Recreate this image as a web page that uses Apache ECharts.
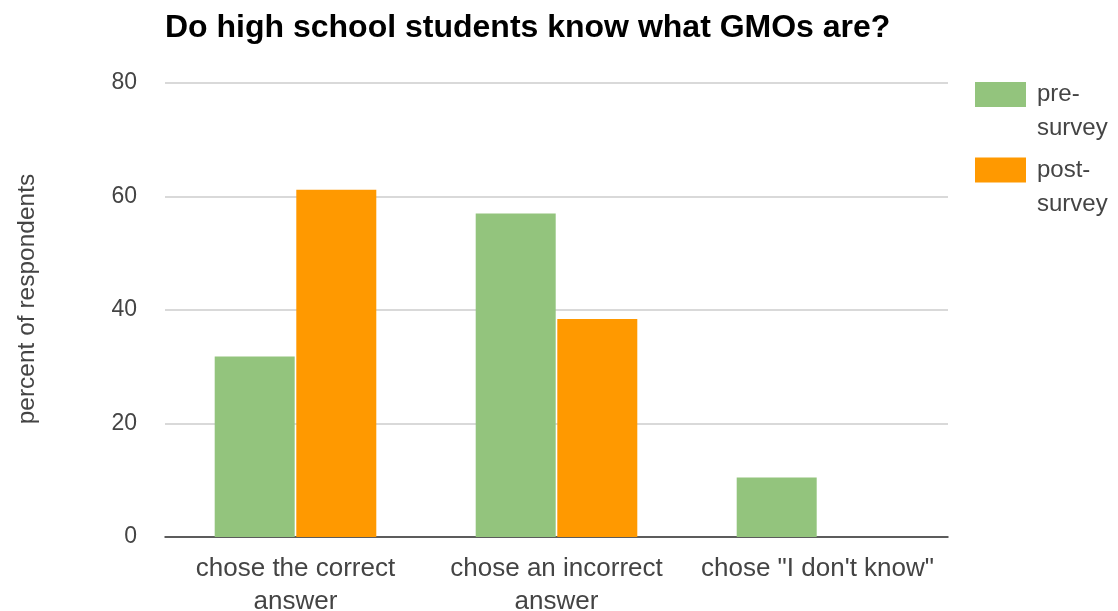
<!DOCTYPE html>
<html>
<head>
<meta charset="utf-8">
<script src="https://cdn.jsdelivr.net/npm/echarts@6/dist/echarts.min.js"></script>
<style>
  html, body { margin: 0; padding: 0; background: #fff; }
  #chart { width: 1118px; height: 611px; }
</style>
</head>
<body>
<div id="chart"></div>
<script>
// Survey answers, in percent of respondents
const categories = ['chose the correct\nanswer', 'chose an incorrect\nanswer', 'chose "I don\'t know"'];
const preSurvey = [31.8, 57.0, 10.5];
const postSurvey = [61.2, 38.4, 0];
const seriesNames = ['pre-survey', 'post-survey'];
const yTicks = { min: 0, max: 80, interval: 20 };

const font = '"Liberation Sans", Arial, sans-serif';
const chart = echarts.init(document.getElementById('chart'));

// One legend per series so each swatch lines up with the first line of its wrapped label
function legendFor(name, top) {
  return {
    orient: 'vertical',
    left: 975,
    top: top,
    padding: 0,
    itemWidth: 51,
    itemHeight: 25,
    icon: 'rect',
    data: [name],
    // leading blank line keeps the swatch level with the first text line
    formatter: n => '\n' + n.replace('-', '-\n'),
    textStyle: { fontFamily: font, fontSize: 24, color: '#444', lineHeight: 34, padding: [6, 0, 0, 6] }
  };
}

chart.setOption({
  backgroundColor: '#ffffff',
  animation: false,
  title: {
    text: 'Do high school students know what GMOs are?',
    left: 160,
    top: 7,
    textStyle: { fontFamily: font, fontWeight: 'bold', fontSize: 32, color: '#000' }
  },
  legend: [legendFor(seriesNames[0], 40.5), legendFor(seriesNames[1], 116)],
  grid: { left: 165, right: 170, top: 83, bottom: 74, outerBoundsMode: 'none' },
  xAxis: {
    type: 'category',
    data: categories,
    axisLine: { lineStyle: { color: '#333', width: 1.5 } },
    axisTick: { show: false },
    axisLabel: {
      fontFamily: font, fontSize: 26, color: '#444', lineHeight: 33, margin: 15,
      interval: 0
    }
  },
  yAxis: {
    type: 'value',
    min: yTicks.min,
    max: yTicks.max,
    interval: yTicks.interval,
    name: 'percent of respondents',
    nameLocation: 'middle',
    nameGap: 125,
    nameTextStyle: { fontFamily: font, fontSize: 24.5, color: '#444', padding: [0, 0, 0, 22] },
    axisLine: { show: false },
    axisTick: { show: false },
    axisLabel: { fontFamily: font, fontSize: 23, color: '#444', margin: 28 },
    splitLine: { lineStyle: { color: '#cccccc', width: 1.5 } }
  },
  series: [
    {
      name: seriesNames[0],
      type: 'bar',
      data: preSurvey,
      barWidth: 80,
      barGap: '2%',
      itemStyle: { color: '#93c47d' }
    },
    {
      name: seriesNames[1],
      type: 'bar',
      data: postSurvey,
      barWidth: 80,
      barGap: '2%',
      itemStyle: { color: '#ff9900' }
    }
  ]
});
</script>
</body>
</html>
